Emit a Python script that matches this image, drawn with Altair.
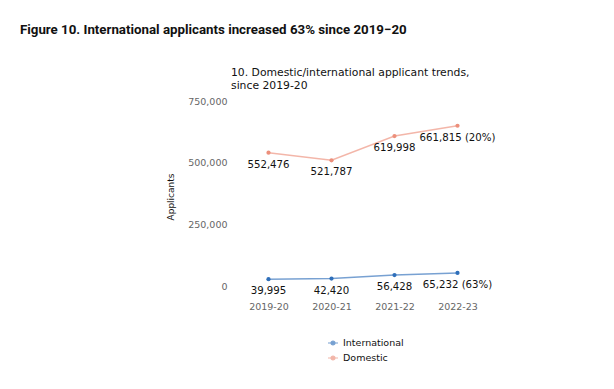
import altair as alt
import pandas as pd

years = ["2019-20", "2020-21", "2021-22", "2022-23"]
international = [39995, 42420, 56428, 65232]
domestic = [552476, 521787, 619998, 661815]
international_labels = ["39,995", "42,420", "56,428", "65,232 (63%)"]
domestic_labels = ["552,476", "521,787", "619,998", "661,815 (20%)"]
series = ["International", "Domestic"]
colors = ["#2f6fba", "#ec8f7b"]
y_ticks = [0, 250000, 500000, 750000]
main_title_text = "Figure 10. International applicants increased 63% since 2019\u221220"
subtitle_text = "10. Domestic/international applicant trends,\nsince 2019-20"

rows = []
for yv, v, l in zip(years, international, international_labels):
    rows.append({"year": yv, "value": v, "label": l, "type": "International"})
for yv, v, l in zip(years, domestic, domestic_labels):
    rows.append({"year": yv, "value": v, "label": l, "type": "Domestic"})
df = pd.DataFrame(rows)

FONT = "DejaVu Sans"

x = alt.X("year:O", sort=years, title=None,
          scale=alt.Scale(type="point", padding=0.5),
          axis=alt.Axis(labelAngle=0, ticks=False, domain=False, grid=False,
                        labelFont=FONT, labelFontSize=9.5, labelColor="#666666",
                        labelPadding=12))
y = alt.Y("value:Q", title="Applicants",
          scale=alt.Scale(domain=[0, 750000], nice=False),
          axis=alt.Axis(values=y_ticks, format=",.0f", ticks=False, domain=False, grid=False,
                        labelFont=FONT, labelFontSize=9.5, labelColor="#666666",
                        labelPadding=10, labelOffset=-3,
                        titleFont=FONT, titleFontSize=9, titleFontWeight="normal",
                        titleColor="#111111", titlePadding=12))

legend_symbol = "M-1,0L1,0M-0.4,0A0.4,0.4,0,1,1,0.4,0A0.4,0.4,0,1,1,-0.4,0Z"
legend = alt.Legend(orient="none", legendX=90, legendY=233,
                    labelFont=FONT, labelFontSize=9.5, labelColor="#111111",
                    symbolType=legend_symbol, symbolSize=100, symbolStrokeWidth=1.2,
                    rowPadding=4, labelOffset=4)
color = alt.Color("type:N", title=None, scale=alt.Scale(domain=series, range=colors), legend=legend)

base = alt.Chart(df)
lines = base.mark_line(strokeWidth=1.5, opacity=0.65).encode(x=x, y=y, color=color)
points = base.mark_circle(size=18, opacity=1).encode(x=x, y=y, color=color)
labels = base.mark_text(dy=12, font=FONT, fontSize=10.2, color="#111111", baseline="middle").encode(
    x=x, y=y, text="label:N")

main_title = alt.Chart(pd.DataFrame({"t": [main_title_text]})).mark_text(
    align="left", baseline="middle", font="Roboto", fontWeight="bold",
    fontSize=13.3, color="#111111").encode(text="t:N", x=alt.value(-217), y=alt.value(-74))

subtitle = alt.Chart(pd.DataFrame({"t": [subtitle_text]})).mark_text(
    align="left", baseline="top", font=FONT, fontSize=10.8, lineHeight=13, lineBreak="\n",
    color="#111111").encode(text="t:N", x=alt.value(-6), y=alt.value(-37.5))

chart = alt.layer(lines, points, labels, main_title, subtitle).properties(
    width=252, height=185,
    autosize=alt.AutoSizeParams(type="none"),
    padding={"left": 229, "top": 96, "right": 110, "bottom": 92},
).configure_view(stroke=None)

chart.save("out.html", embed_options={"renderer": "svg", "actions": False})
